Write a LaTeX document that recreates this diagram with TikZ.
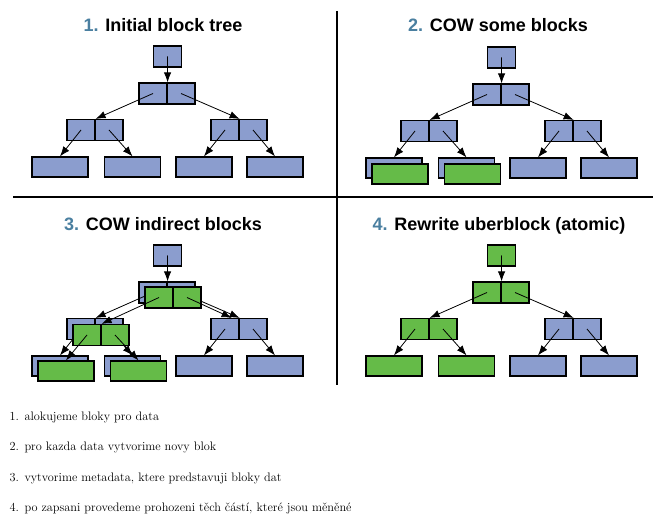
\documentclass[tikz,border=0pt]{standalone}
\usepackage{fontspec}
\newfontfamily\headfont{Liberation Sans}
\usetikzlibrary{arrows.meta,positioning}
\definecolor{oldblk}{RGB}{139,157,206}
\definecolor{newblk}{RGB}{101,187,72}
\definecolor{stepnum}{RGB}{74,127,160}

\tikzset{
  blk/.style={draw, line width=1.2pt, inner sep=0pt, minimum width=28pt, minimum height=21pt},
  leafblk/.style={blk, minimum width=56pt, minimum height=20pt},
  ptr/.style={-{Latex[length=10pt,width=7.5pt]}, line width=0.8pt},
  title/.style={anchor=base, font=\headfont\bfseries\fontsize{18}{20}\selectfont},
  note/.style={anchor=base west, font=\fontsize{12.3}{14}\selectfont},
  sep/.style={line width=1.6pt}
}

% #1 prefix, #2 root + top pair, #3 left subtree, #4 right subtree
\newcommand{\blocktree}[4]{%
  \node[blk, fill=#2] (#1r) at (167.5,56.5) {};
  \node[blk, fill=#2] (#1a) at (153,93.5) {};
  \node[blk, fill=#2] (#1b) at (181,93.5) {};
  \node[blk, fill=#3] (#1c) at (81,130) {};
  \node[blk, fill=#3] (#1d) at (109,130) {};
  \node[blk, fill=#4] (#1e) at (225,130) {};
  \node[blk, fill=#4] (#1f) at (253,130) {};
  \node[leafblk, fill=#3] (#1g) at (60,167) {};
  \node[leafblk, fill=#3] (#1h) at (132.5,167) {};
  \node[leafblk, fill=#4] (#1i) at (204,167) {};
  \node[leafblk, fill=#4] (#1j) at (275,167) {};
  \draw[ptr] (#1r.center) -- (#1a.north east);
  \draw[ptr] (#1a.center) -- (#1c.north east);
  \draw[ptr] (#1b.center) -- (#1e.north east);
  \draw[ptr] (#1c.center) -- (#1g.north);
  \draw[ptr] (#1d.center) -- (#1h.north);
  \draw[ptr] (#1e.center) -- (#1i.north);
  \draw[ptr] (#1f.center) -- (#1j.north);
}

\begin{document}
\begin{tikzpicture}[x=1pt, y=-1pt]
\useasboundingbox (0,0) rectangle (653,521);

% separators
\coordinate (vtop) at (337,11);
\coordinate (vbot) at (337,385);
\coordinate (hleft) at (13,197);
\coordinate (hright) at (653,197);
\draw[sep] (vtop) -- (vbot);
\draw[sep] (hleft) -- (hright);

% titles
\node[title] (t1) at (163,32) {\textcolor{stepnum}{1.} Initial block tree};
\node[title] (t2) at (498,32) {\textcolor{stepnum}{2.} COW some blocks};
\node[title] (t3) at (163,231) {\textcolor{stepnum}{3.} COW indirect blocks};
\node[title] (t4) at (499,231) {\textcolor{stepnum}{4.} Rewrite uberblock (atomic)};

% 1. initial tree
\blocktree{p1}{oldblk}{oldblk}{oldblk}

% 2. copy data blocks
\begin{scope}[shift={(334,1)}]
\blocktree{p2}{oldblk}{oldblk}{oldblk}
\node[leafblk, fill=newblk] (p2gn) at ([shift={(6,6)}]p2g.center) {};
\node[leafblk, fill=newblk] (p2hn) at ([shift={(6,6)}]p2h.center) {};
\end{scope}

% 3. copy indirect blocks
\begin{scope}[shift={(0,199)}]
\blocktree{p3}{oldblk}{oldblk}{oldblk}
\node[blk, fill=newblk] (p3an) at ([shift={(6,5)}]p3a.center) {};
\node[blk, fill=newblk] (p3bn) at ([shift={(6,5)}]p3b.center) {};
\node[blk, fill=newblk] (p3cn) at ([shift={(6,6)}]p3c.center) {};
\node[blk, fill=newblk] (p3dn) at ([shift={(6,6)}]p3d.center) {};
\node[leafblk, fill=newblk] (p3gn) at ([shift={(6,5)}]p3g.center) {};
\node[leafblk, fill=newblk] (p3hn) at ([shift={(6,5)}]p3h.center) {};
\draw[ptr] (p3an.center) -- (p3cn.north east);
\draw[ptr] (p3bn.center) -- ([xshift=-8pt]p3e.north east);
\draw[ptr] (p3cn.center) -- (p3gn.north);
\draw[ptr] (p3dn.center) -- (p3hn.north);
\end{scope}

% 4. new uberblock
\begin{scope}[shift={(334,199)}]
\blocktree{p4}{newblk}{newblk}{oldblk}
\end{scope}

% notes
\node[note] (n1) at (6,420) {\makebox[15pt][l]{1.}alokujeme bloky pro data};
\node[note] (n2) at (6,450) {\makebox[15pt][l]{2.}pro kazda data vytvorime novy blok};
\node[note] (n3) at (6,481) {\makebox[15pt][l]{3.}vytvorime metadata, ktere predstavuji bloky dat};
\node[note] (n4) at (6,511) {\makebox[15pt][l]{4.}po zapsani provedeme prohozeni těch částí, které jsou měněné};
\end{tikzpicture}
\end{document}
